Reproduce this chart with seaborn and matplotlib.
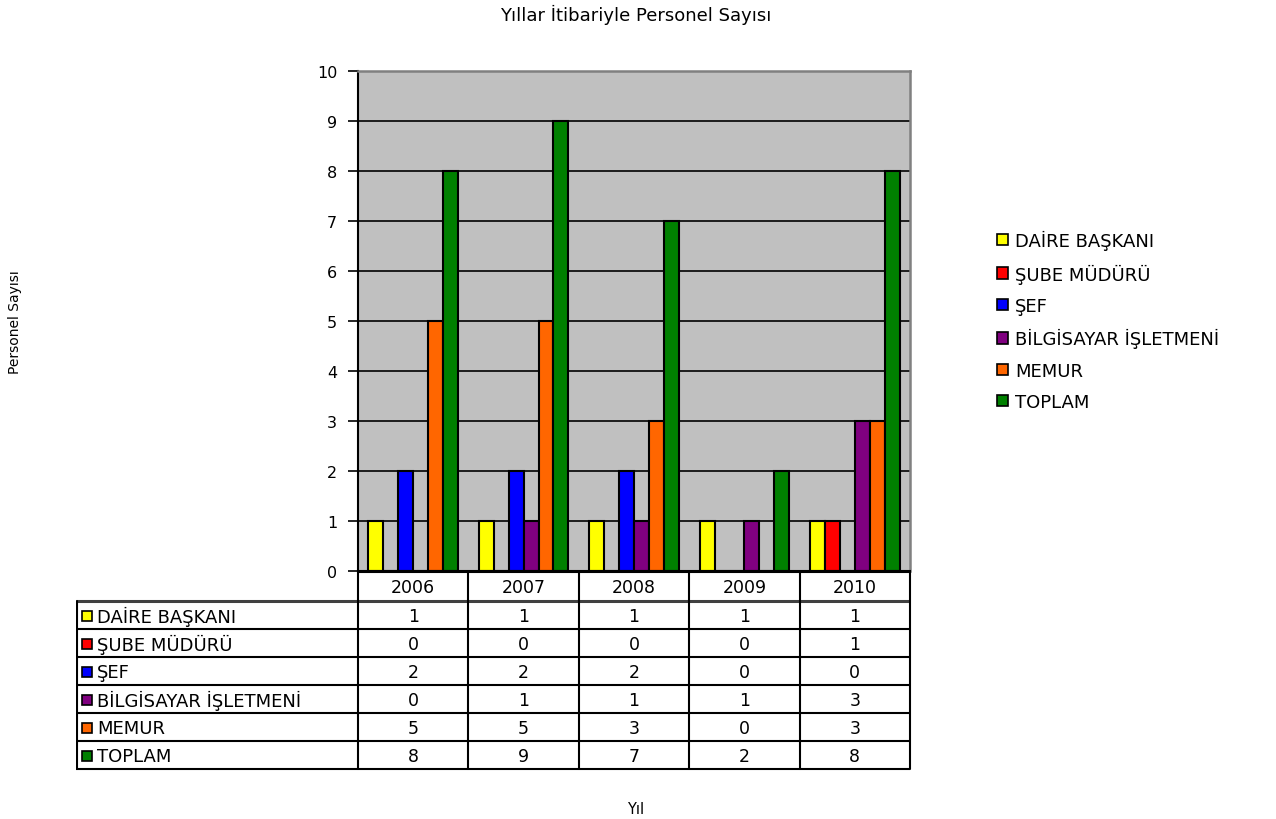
import matplotlib
matplotlib.use("Agg")
import matplotlib.pyplot as plt
from matplotlib.patches import Rectangle
import seaborn as sns
import pandas as pd

# Staff counts per year and title
years = ["2006", "2007", "2008", "2009", "2010"]
titles = ["DAİRE BAŞKANI", "ŞUBE MÜDÜRÜ", "ŞEF", "BİLGİSAYAR İŞLETMENİ", "MEMUR", "TOPLAM"]
daire_baskani = [1, 1, 1, 1, 1]
sube_muduru = [0, 0, 0, 0, 1]
sef = [2, 2, 2, 0, 0]
bilgisayar_isletmeni = [0, 1, 1, 1, 3]
memur = [5, 5, 3, 0, 3]
toplam = [8, 9, 7, 2, 8]
colors = ["#FFFF00", "#FF0000", "#0000FF", "#800080", "#FF6600", "#008000"]

series = [daire_baskani, sube_muduru, sef, bilgisayar_isletmeni, memur, toplam]
rows = []
for title, vals in zip(titles, series):
    for y, v in zip(years, vals):
        rows.append({"Yıl": y, "Unvan": title, "Sayı": v})
df = pd.DataFrame(rows)

W, H = 1276, 820
sns.set_theme(style="white")
plt.rcParams["font.family"] = ["DejaVu Sans"]
plt.rcParams["text.color"] = "black"
plt.rcParams["ytick.color"] = "black"
plt.rcParams["ytick.labelcolor"] = "black"

LABEL_FS = 13
NUM_FS = 12.5
TICK_FS = 11.5

fig = plt.figure(figsize=(W / 100, H / 100), dpi=100)
fig.patch.set_facecolor("white")


def px_rect(l, t, r, b):
    return [l / W, 1 - b / H, (r - l) / W, (b - t) / H]


# ---- chart area ----
ax = fig.add_axes(px_rect(358, 72, 910, 572))
ax.set_facecolor("#C0C0C0")
sns.barplot(data=df, x="Yıl", y="Sayı", hue="Unvan", hue_order=titles,
            order=years, palette=colors, saturation=1, width=0.81, gap=0,
            edgecolor="black", linewidth=1.5, legend=False, ax=ax)
ax.set_xlim(-0.5, len(years) - 0.5)
ax.set_ylim(0, 10)
ax.set_yticks(range(0, 11))
ax.set_xticks([])
ax.set_xlabel("")
ax.set_ylabel("")
ax.set_axisbelow(True)
ax.yaxis.grid(True, color="black", linewidth=1.2)
ax.tick_params(axis="y", direction="out", length=7, width=1.2, color="black",
               labelcolor="black", labelsize=TICK_FS, pad=8, left=True)
ax.spines["left"].set_color("black")
ax.spines["left"].set_linewidth(1.5)
for s in ("top", "right"):
    ax.spines[s].set_color("#808080")
    ax.spines[s].set_linewidth(1.8)
ax.spines["bottom"].set_color("black")
ax.spines["bottom"].set_linewidth(1.5)

# ---- data table ----
tax = fig.add_axes(px_rect(76, 572, 912, 772))
tax.set_xlim(76, 912)
tax.set_ylim(772, 572)
tax.axis("off")

col_left = 358
col_w = (910 - 358) / len(years)
header_bottom = 602
row_h = (770 - header_bottom) / len(titles)

# horizontal rules
tax.plot([col_left, 910], [573, 573], color="black", lw=1.5)
for i in range(len(titles) + 1):
    y = header_bottom + i * row_h
    color = "#404040" if i == 0 else "black"
    lw = 2.2 if i == 0 else 1.5
    tax.plot([76, 910], [y, y], color=color, lw=lw, solid_capstyle="butt")
# vertical rules
tax.plot([77, 77], [header_bottom, 770], color="black", lw=1.5)
for j in range(len(years) + 1):
    x = col_left + j * col_w
    tax.plot([x, x], [573, 770], color="black", lw=1.5)

# header
for j, yr in enumerate(years):
    tax.text(col_left + (j + 0.5) * col_w, (573 + header_bottom) / 2 + 1, yr,
             ha="center", va="center", fontsize=NUM_FS, color="black")
# rows
for i, (title, vals, c) in enumerate(zip(titles, series, colors)):
    yc = header_bottom + (i + 0.5) * row_h + 1
    tax.add_patch(Rectangle((82, yc - 5), 10, 10, facecolor=c,
                            edgecolor="black", lw=1.2))
    tax.text(97, yc, title, ha="left", va="center", fontsize=LABEL_FS,
             color="black")
    for j, v in enumerate(vals):
        tax.text(col_left + (j + 0.5) * col_w, yc, str(v),
                 ha="center", va="center", fontsize=NUM_FS, color="black")

# ---- legend ----
handles = [Rectangle((0, 0), 1, 1, facecolor=c, edgecolor="black", lw=1.2)
           for c in colors]
fig.legend(handles, titles, loc="upper left",
           bbox_to_anchor=(988 / W, 1 - 222 / H), frameon=False,
           fontsize=LABEL_FS, labelcolor="black", handlelength=0.6,
           handleheight=0.6, handletextpad=0.4, labelspacing=0.74,
           borderpad=0)

# ---- titles ----
fig.text(636 / W, 1 - 15 / H, "Yıllar İtibariyle Personel Sayısı",
         ha="center", va="center", fontsize=13, color="black")
fig.text(15 / W, 1 - 322 / H, "Personel Sayısı", ha="center", va="center",
         rotation=90, fontsize=10, color="black")
fig.text(636 / W, 1 - 810 / H, "Yıl", ha="center", va="center",
         fontsize=10.5, color="black")

fig.savefig("out.png", dpi=100, facecolor="white")
